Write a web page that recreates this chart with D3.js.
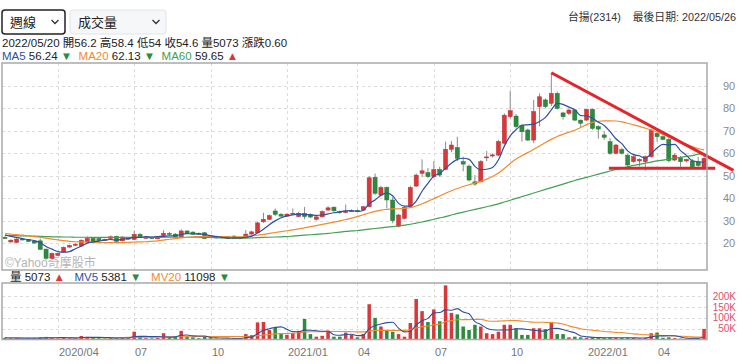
<!DOCTYPE html>
<html><head><meta charset="utf-8">
<script src="https://cdn.jsdelivr.net/npm/d3@7"></script>
<style>
body{margin:0;background:#fff;}
svg{font-family:"Liberation Sans","Noto Sans CJK TC",Arial,sans-serif;}
</style></head><body>
<svg id="c" width="740" height="364"></svg>
<script>
// ---- data (weekly candles, index 0..119, last = week of 2022/05/23) ----
const opens  = [22.6,20.5,20.3,21.8,21.6,20.9,21.0,17.3,13.2,14.5,16.0,18.2,19.0,18.7,20.5,22.1,22.0,21.6,22.0,23.0,21.0,21.8,21.6,23.9,22.1,22.5,21.9,23.3,24.3,24.0,22.8,25.4,24.9,24.4,24.6,23.2,23.0,22.9,22.8,23.1,22.0,22.5,24.0,24.6,29.5,30.6,34.3,32.8,32.0,33.0,31.8,33.3,32.8,30.6,31.7,34.7,36.0,34.0,33.6,34.3,34.5,34.7,36.2,49.3,41.4,44.8,39.2,27.5,31.0,36.2,45.4,51.1,51.4,49.6,52.8,52.8,61.8,62.6,56.3,54.3,47.3,47.3,58.0,58.8,59.2,64.5,76.3,76.6,72.3,70.4,65.9,80.8,83.8,82.3,86.7,78.0,77.8,79.3,74.8,74.8,79.6,71.9,68.2,65.2,60.0,61.7,59.2,56.3,56.6,56.3,58.5,68.9,67.4,66.2,57.0,58.0,56.6,56.6,56.2,54.0];
const highs  = [23.0,21.6,22.2,22.1,21.9,21.2,22.1,17.6,15.8,15.7,18.5,19.3,19.8,21.6,23.0,22.6,22.4,22.0,23.4,23.3,23.0,22.4,25.6,24.5,22.9,22.8,23.0,25.7,25.0,24.5,26.1,25.7,25.2,24.7,24.8,23.6,23.3,23.2,23.2,23.5,22.7,25.8,25.5,29.5,33.5,32.8,35.4,33.4,33.2,35.4,34.0,36.1,33.2,31.9,34.6,36.4,36.3,34.5,37.2,35.0,35.0,36.5,49.8,51.0,45.5,45.2,40.5,33.0,36.5,45.5,51.0,57.3,53.5,56.5,54.0,65.2,65.5,67.4,58.5,55.0,50.3,57.0,61.0,60.0,66.0,77.8,87.9,77.5,73.0,71.0,83.8,86.7,84.5,95.9,87.5,78.5,80.0,79.8,75.0,79.8,80.0,72.5,69.8,66.7,64.2,62.5,59.8,59.0,57.8,59.0,71.0,70.4,68.0,66.8,60.0,58.8,57.5,57.5,58.4,58.8];
const lows   = [21.8,20.2,20.0,21.3,20.5,19.8,17.0,12.6,12.8,14.2,15.7,18.0,18.8,18.5,20.3,20.3,20.9,21.1,21.8,20.5,20.8,21.5,21.4,22.4,21.9,21.8,21.7,23.0,23.6,22.6,22.6,24.1,23.8,23.8,21.9,22.3,22.1,22.1,21.9,21.9,21.7,22.3,23.8,24.4,29.0,30.2,32.0,31.8,31.7,32.6,31.5,30.6,31.2,30.1,31.4,34.4,33.8,33.0,33.4,33.8,33.7,34.5,36.0,41.5,40.8,35.5,28.8,27.0,30.5,36.0,45.0,49.5,49.0,49.0,49.5,52.5,60.5,56.5,52.0,47.5,45.5,47.0,56.5,58.2,58.8,64.0,75.5,71.0,65.2,65.5,64.5,72.0,80.0,81.0,79.5,75.0,77.0,74.3,71.5,74.5,70.5,66.5,65.9,59.3,59.5,59.5,54.0,55.8,54.2,52.3,58.0,65.2,65.8,56.0,56.5,54.0,56.0,53.6,54.0,53.8];
const closes = [22.0,21.3,21.8,21.5,20.7,20.0,17.2,13.2,15.4,15.4,18.1,18.9,19.5,21.3,22.1,20.6,21.0,21.4,22.8,20.8,22.7,22.2,23.9,22.8,22.7,22.0,22.9,24.4,24.0,22.8,25.4,24.3,24.0,23.9,22.0,22.5,22.3,22.3,22.1,22.1,22.5,24.0,25.0,29.0,30.6,32.2,32.8,32.0,32.9,33.3,33.3,31.8,31.6,31.7,34.0,35.7,34.4,33.6,34.3,34.4,34.0,36.2,49.1,42.2,44.8,39.2,30.0,32.5,35.9,44.8,50.3,52.2,49.6,52.8,50.3,61.8,63.7,57.8,55.2,48.1,46.3,56.3,58.4,59.3,65.2,77.0,79.0,71.9,69.6,65.9,78.6,85.2,80.8,86.7,80.0,76.3,79.3,74.8,73.4,79.6,71.1,70.8,67.1,60.0,63.7,60.0,54.8,58.5,57.3,58.5,70.4,67.4,66.2,56.7,59.2,56.3,57.3,54.0,54.6,57.8];
const volumes = [8,6,7,4,5,6,10,12,8,5,9,6,7,16,12,8,6,5,8,7,10,6,36,14,6,5,7,29,8,12,40,14,10,6,12,6,5,4,4,5,6,25,20,79,81,44,57,30,22,30,40,95,25,13,17,41,13,13,32,21,10,25,163,100,60,41,36,25,13,76,187,131,81,139,84,250,123,116,60,44,68,60,29,25,36,68,68,52,21,21,52,52,48,81,25,25,10,13,10,8,8,7,8,9,8,7,8,7,6,8,29,32,8,10,6,4,3,4,5,49];
const ma5  = [23.6,23.0,22.5,22.0,21.5,21.1,20.2,18.5,17.3,16.2,15.9,16.2,17.5,18.6,20.0,20.5,20.9,21.3,21.6,21.3,21.7,22.0,22.5,22.5,22.9,22.7,22.9,23.0,23.2,23.2,23.9,24.2,24.1,24.1,23.9,23.3,22.9,22.6,22.2,22.3,22.3,22.6,23.1,24.5,26.2,28.2,29.9,31.3,32.1,32.6,32.9,32.7,32.6,32.3,32.5,33.0,33.5,33.9,34.4,34.5,34.1,34.5,37.6,39.2,41.3,42.3,41.1,37.7,36.5,36.5,38.7,43.1,46.6,49.9,51.0,53.3,55.6,57.3,57.8,57.3,54.2,52.7,52.9,53.7,57.1,63.2,67.8,70.5,72.5,72.7,73.0,74.2,76.0,79.4,82.3,81.8,80.6,79.4,76.8,76.7,75.6,73.9,72.4,69.7,66.5,64.3,61.1,59.4,58.9,57.8,59.9,62.4,64.0,63.8,64.0,61.2,59.1,56.7,56.24,56.0];
const ma20 = [24.2,24.0,23.8,23.5,23.2,22.9,22.6,22.2,21.8,21.4,21.1,20.8,20.6,20.5,20.4,20.3,20.3,20.2,20.2,20.2,20.2,20.3,20.4,20.5,20.6,20.8,21.0,21.3,21.7,22.0,22.3,22.6,22.8,22.9,23.0,23.0,22.9,22.9,22.8,22.8,22.8,23.0,23.2,23.5,23.9,24.3,24.7,25.1,25.5,25.9,26.3,26.8,27.3,27.8,28.3,28.8,29.3,29.9,30.5,31.1,31.8,32.6,33.4,34.1,34.7,35.0,35.2,35.3,35.5,35.8,36.5,37.5,38.6,39.8,41.0,42.2,43.3,44.3,45.2,46.0,46.7,47.5,48.5,49.7,51.2,53.2,55.5,57.5,59.0,60.3,61.8,63.3,64.8,66.2,67.5,68.5,69.4,70.3,71.5,72.8,73.8,74.3,74.5,74.5,74.4,74.0,73.4,72.7,72.0,71.2,70.4,69.5,68.4,67.3,66.2,65.1,64.0,63.0,62.13,61.5];
const ma60 = [23.4,23.3,23.3,23.2,23.2,23.1,23.0,22.9,22.8,22.8,22.7,22.7,22.6,22.6,22.6,22.5,22.5,22.5,22.5,22.5,22.5,22.5,22.5,22.5,22.5,22.5,22.5,22.6,22.6,22.6,22.6,22.6,22.6,22.6,22.5,22.5,22.4,22.3,22.2,22.2,22.2,22.2,22.3,22.4,22.5,22.6,22.7,22.8,22.9,23.1,23.3,23.5,23.7,23.9,24.1,24.3,24.6,24.9,25.2,25.4,25.6,25.9,26.2,26.5,26.8,27.1,27.3,27.6,28.0,28.4,28.9,29.4,30.0,30.6,31.2,31.8,32.5,33.2,33.8,34.4,35.0,35.6,36.2,36.8,37.5,38.3,39.1,39.9,40.7,41.5,42.3,43.1,43.9,44.7,45.5,46.3,47.1,47.9,48.6,49.3,50.0,50.7,51.4,52.1,52.8,53.4,54.0,54.6,55.1,55.6,56.1,56.6,57.0,57.4,57.8,58.2,58.6,59.0,59.65,59.9];
const mv5  = [8,7,7,6,6,5.6,6.4,7.4,8.2,8.2,8.8,8,7,8.6,10,9.8,9.8,9.4,7.8,6.8,7.2,7.2,13.4,14.6,14.4,13.4,13.6,12.2,11,12.2,19.2,20.6,16.8,16.4,16.4,9.6,7.8,6.6,6.2,4.8,4.8,8.8,12,27,42.2,49.8,56.2,58.2,46.8,36.6,35.8,43.4,42.4,40.6,38,38.2,21.8,19.4,23.2,24,17.8,20.2,50.2,63.8,71.6,77.8,80,52.4,35,38.2,67.4,86.4,97.6,122.8,124.4,137,135.4,142.4,126.6,118.6,82.2,69.6,52.2,45.2,43.6,43.6,45.2,49.8,49,46,42.8,39.6,38.8,50.8,51.6,46.2,37.8,30.8,16.6,12.8,9.8,9.0,8.2,8.0,8.0,7.8,7.8,7.6,7.2,7.2,11.6,16.4,16.8,17,17,12,6.2,5.4,5.38,13];
const mv20 = [8,8,8,8,8,8,8,8,8,8,8,8,8,8,8,8,8,8,8,8,9,10,11,11,11,11,11,12,12,12,13,13,13,14,14,14,14,14,14,14,14,14,15,18,21,23,26,27,28,29,31,35,36,36,36,37,37,37,37,36,35,35,39,42,42,42,42,42,42,45,53,59,62,68,71,82,87,91,92,92,93,93,87,84,85,86,88,88,85,82,80,80,79,78,76,72,63,56,50,46,43,40,37,35,33,32,29,26,24,22,21,20,18,17,16,15,14,12,11.1,13];
const tickIndex  = [9,22,35,48,60,73,86,99,111];
const tickLabels = ["2020/04","07","10","2021/01","04","07","10","2022/01","04"];
const priceTicks = [20,30,40,50,60,70,80,90];
const volTicks   = [50,100,150,200];
const volTickLabels = ["50K","100K","150K","200K"];
const trendFall  = [[93,95.9],[124,52.4]];
const trendFloor = [[102.8,53.3],[120.9,53.3]];

// ---- layout ----
const L=2, R=707, PT=63, PB=270, VT=283, VB=339.5;
const RED="#d8383a", GRN="#2d8a3f", BLUE="#2f4fa3", ORG="#f28b2d", MGRN="#43a052";
const svg=d3.select("#c");
const idx=d3.range(closes.length);
const x=d3.scaleBand().domain(idx).range([L,R]).paddingInner(0.3).paddingOuter(0.15);
const xc=i=>x(i)+x.bandwidth()/2;
const xl=d3.scaleLinear().domain([0,closes.length-1]).range([xc(0),xc(closes.length-1)]);
const y=d3.scaleLinear().domain([8,100.25]).range([PB,PT]);
const yv=d3.scaleLinear().domain([0,261]).range([VB,VT]);

// header controls
function selectBox(x0,w,label,focused){
  const g=svg.append("g");
  g.append("rect").attr("x",x0).attr("y",10).attr("width",w).attr("height",24).attr("rx",3)
   .attr("fill",focused?"#fff":"#f6f7f8").attr("stroke",focused?"#222":"#e2e3e5").attr("stroke-width",focused?1.5:1);
  g.append("text").attr("x",x0+8).attr("y",27).attr("font-size",13).attr("fill","#222").text(label);
  const cx=x0+w-10;
  g.append("path").attr("d",`M${cx-3.5},20 L${cx},23.5 L${cx+3.5},20`).attr("fill","none").attr("stroke","#333").attr("stroke-width",1.3);
}
selectBox(2,63,"週線",true);
selectBox(70,96,"成交量",false);
const tr=svg.append("text").attr("x",736).attr("y",21).attr("text-anchor","end").attr("font-size",10.8).attr("fill","#333");
tr.append("tspan").text("台揚(2314)");
tr.append("tspan").attr("dx",12).text("最後日期: 2022/05/26");
svg.append("text").attr("x",2).attr("y",47).attr("font-size",11.5).attr("fill","#222")
  .text("2022/05/20 開56.2 高58.4 低54 收54.6 量5073 漲跌0.60");
const maLine=svg.append("text").attr("x",2).attr("y",60).attr("font-size",11.5);
[["MA5 ",BLUE],["56.24 ","#222"],["▼",GRN],["  MA20 ",ORG],["62.13 ","#222"],["▼",GRN],["  MA60 ",MGRN],["59.65 ","#222"],["▲",RED]]
  .forEach(([t,c])=>maLine.append("tspan").attr("fill",c).text(t.replace(/ /g,"\u00a0")));

// panels
function grid(top,bot,yvals,ys){
  const g=svg.append("g").attr("stroke","#dcdcdc").attr("stroke-dasharray","3,3").attr("stroke-width",1);
  tickIndex.forEach(i=>g.append("line").attr("x1",Math.round(xc(i))+0.5).attr("x2",Math.round(xc(i))+0.5).attr("y1",top).attr("y2",bot));
  yvals.forEach(v=>g.append("line").attr("x1",L).attr("x2",R).attr("y1",Math.round(ys(v))+0.5).attr("y2",Math.round(ys(v))+0.5));
}
grid(PT,PB,priceTicks,y);
grid(VT,VB,volTicks,yv);

// watermark
svg.append("text").attr("x",5).attr("y",267).attr("font-size",12).attr("fill","#b5b5b5").text("©Yahoo奇摩股市");

// candles
const cg=svg.append("g");
idx.forEach(i=>{
  const up=closes[i]>=opens[i];
  const col=up?RED:GRN;
  cg.append("line").attr("x1",xc(i)).attr("x2",xc(i)).attr("y1",y(highs[i])).attr("y2",y(lows[i]))
    .attr("stroke","#8a8a8a").attr("stroke-width",1);
  const top=y(Math.max(opens[i],closes[i])), bot=y(Math.min(opens[i],closes[i]));
  cg.append("rect").attr("x",x(i)).attr("width",x.bandwidth()).attr("y",top).attr("height",Math.max(1,bot-top))
    .attr("fill",col).attr("stroke",d3.color(col).darker(0.4)).attr("stroke-width",0.5);
});
// MA lines
function line(arr,sc,color,w){
  svg.append("path").datum(arr).attr("fill","none").attr("stroke",color).attr("stroke-width",w||1.2)
   .attr("d",d3.line().defined(d=>d!=null).x((d,i)=>xc(i)).y(d=>sc(d)).curve(d3.curveMonotoneX));
}
line(ma60,y,MGRN);
line(ma20,y,ORG);
line(ma5,y,BLUE);

// trend lines
[trendFall,trendFloor].forEach(t=>{
  svg.append("line").attr("x1",xl(t[0][0])).attr("y1",y(t[0][1])).attr("x2",xl(t[1][0])).attr("y2",y(t[1][1]))
   .attr("stroke","#e4232b").attr("stroke-width",3);
});

// volume bars
const vg=svg.append("g");
idx.forEach(i=>{
  const up=closes[i]>=opens[i];
  vg.append("rect").attr("x",x(i)+0.3).attr("width",x.bandwidth()-0.6).attr("y",yv(volumes[i])).attr("height",VB-yv(volumes[i]))
    .attr("fill",up?RED:GRN);
});
line(mv20,yv,ORG,1.1);
line(mv5,yv,BLUE,1.1);

// frames
svg.append("rect").attr("x",L).attr("y",PT).attr("width",R-L).attr("height",PB-PT).attr("fill","none").attr("stroke","#a9a9a9").attr("stroke-width",1.5);
svg.append("rect").attr("x",L).attr("y",VT).attr("width",R-L).attr("height",VB-VT).attr("fill","none").attr("stroke","#a9a9a9").attr("stroke-width",1.5);

// axes text
priceTicks.forEach(v=>svg.append("text").attr("x",723).attr("y",y(v)+4).attr("font-size",11).attr("fill","#8a8a8a").text(v));
volTicks.forEach((v,k)=>svg.append("text").attr("x",736).attr("y",yv(v)+3.5).attr("text-anchor","end").attr("font-size",10).attr("fill","#e0506a").text(volTickLabels[k]));
tickIndex.forEach((i,k)=>svg.append("text").attr("x",Math.round(xc(i))+1).attr("y",356).attr("font-size",11).attr("fill","#777").text(tickLabels[k]));

// volume legend
const vl=svg.append("text").attr("x",10).attr("y",281).attr("font-size",11.5);
[["量 ","#222"],["5073 ","#222"],["▲",RED],["   MV5 ",BLUE],["5381 ","#222"],["▼",GRN],["   MV20 ",ORG],["11098 ","#222"],["▼",GRN]]
  .forEach(([t,c])=>vl.append("tspan").attr("fill",c).text(t.replace(/ /g,"\u00a0")));
</script>
</body></html>
